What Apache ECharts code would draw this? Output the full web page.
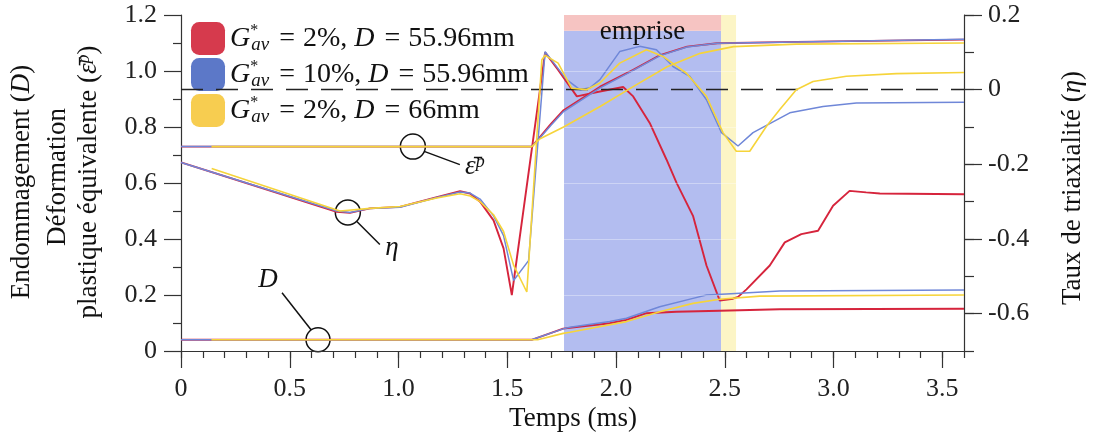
<!DOCTYPE html>
<html><head><meta charset="utf-8">
<script src="https://cdn.jsdelivr.net/npm/echarts@6/dist/echarts.min.js"></script>
<style>html,body{margin:0;padding:0;background:#fff}#c{width:1094px;height:437px}</style>
</head><body><div id="c"></div>
<script>
// ---------- DATA ----------
const caseNames = ['G2_D5596', 'G10_D5596', 'G2_D66'];
const xMajorTicks = [0, 0.5, 1, 1.5, 2, 2.5, 3, 3.5];
const leftMajorTicks = [0, 0.2, 0.4, 0.6, 0.8, 1.0, 1.2];
const rightMajorTicks = [-0.6, -0.4, -0.2, 0, 0.2];

// equivalent plastic strain (left axis)
const epsRed = [[0,0.73],[1.613,0.73],[1.651,0.765],[1.70,0.81],[1.759,0.86],[1.927,0.944],[2.079,1.004],[2.203,1.057],[2.327,1.087],[2.465,1.099],[2.83,1.104],[3.6,1.112]];
const epsBlue = [[0,0.73],[1.613,0.73],[1.651,0.762],[1.70,0.805],[1.759,0.855],[1.927,0.94],[2.079,1.002],[2.203,1.055],[2.327,1.086],[2.465,1.099],[2.83,1.104],[3.6,1.113]];
const epsYellow = [[0.14,0.73],[1.613,0.73],[1.651,0.758],[1.759,0.80],[1.927,0.873],[2.079,0.944],[2.235,1.015],[2.387,1.063],[2.54,1.087],[2.83,1.096],[3.6,1.10]];

// triaxiality (right axis)
const etaRed = [[0,-0.195],[0.716,-0.327],[0.777,-0.33],[0.869,-0.318],[1.007,-0.314],[1.176,-0.288],[1.283,-0.272],[1.329,-0.278],[1.375,-0.3],[1.437,-0.35],[1.483,-0.425],[1.521,-0.55],[1.674,0.10],[1.734,0.053],[1.82,-0.018],[1.926,-0.005],[2.033,0.007],[2.079,-0.018],[2.155,-0.089],[2.232,-0.187],[2.278,-0.249],[2.354,-0.338],[2.416,-0.471],[2.477,-0.565],[2.538,-0.56],[2.561,-0.555],[2.6,-0.535],[2.707,-0.471],[2.776,-0.409],[2.852,-0.387],[2.929,-0.378],[2.998,-0.311],[3.074,-0.271],[3.15,-0.275],[3.213,-0.278],[3.6,-0.28]];
const etaBlue = [[0,-0.195],[0.716,-0.325],[0.777,-0.329],[0.869,-0.318],[1.007,-0.315],[1.176,-0.289],[1.283,-0.274],[1.329,-0.277],[1.375,-0.293],[1.437,-0.338],[1.483,-0.391],[1.529,-0.511],[1.598,-0.458],[1.674,0.102],[1.773,0.027],[1.834,0],[1.88,0.005],[1.926,0.027],[2.017,0.102],[2.109,0.116],[2.186,0.107],[2.262,0.062],[2.339,0.036],[2.416,-0.027],[2.485,-0.115],[2.561,-0.151],[2.63,-0.115],[2.799,-0.062],[2.952,-0.045],[3.105,-0.036],[3.6,-0.034]];
const etaYellow = [[0.141,-0.211],[0.731,-0.325],[0.869,-0.318],[1.007,-0.313],[1.176,-0.29],[1.283,-0.279],[1.33,-0.285],[1.375,-0.3],[1.437,-0.335],[1.483,-0.38],[1.529,-0.47],[1.59,-0.542],[1.659,0.08],[1.674,0.092],[1.734,0.071],[1.796,0.004],[1.864,0],[1.926,0.018],[2.017,0.071],[2.14,0.107],[2.216,0.089],[2.324,0.044],[2.416,-0.018],[2.492,-0.115],[2.553,-0.165],[2.615,-0.165],[2.692,-0.098],[2.753,-0.053],[2.829,0],[2.906,0.022],[3.059,0.036],[3.289,0.043],[3.6,0.046]];

// damage (left axis)
const dRed = [[0,0.04],[1.612,0.04],[1.757,0.08],[1.971,0.099],[2.048,0.111],[2.14,0.135],[2.278,0.14],[2.477,0.144],[2.753,0.149],[3.6,0.151]];
const dBlue = [[0,0.04],[1.612,0.04],[1.757,0.079],[1.788,0.085],[1.971,0.105],[2.048,0.117],[2.201,0.158],[2.354,0.188],[2.416,0.2],[2.508,0.204],[2.753,0.214],[3.6,0.218]];
const dYellow = [[0.14,0.04],[1.64,0.04],[1.757,0.063],[1.788,0.067],[2.048,0.105],[2.201,0.14],[2.354,0.17],[2.477,0.185],[2.661,0.196],[3.6,0.2]];

// zones
const empriseStart = 1.761, empriseEnd = 2.483, yellowEnd = 2.552, empriseBlueTop = 1.144;

// ---------- CHART ----------
const FONT = "'Liberation Serif', 'DejaVu Serif', serif";
const AX = '#333';
const fmt = v => Math.abs(v) < 1e-9 ? '0' : v.toFixed(1);
const legendIcon = ['#d63a4d', '#5c78c8', '#f7cd50'];
const lineCol = ['#d6243c', '#6f87d8', '#f6d43a'];
const lineW = [1.9, 1.5, 1.6];
const sets = [[epsRed, etaRed, dRed], [epsBlue, etaBlue, dBlue], [epsYellow, etaYellow, dYellow]];

const series = [
  { type: 'line', data: [], z: 1, silent: true,
    markArea: { silent: true, data: [
      [{ xAxis: empriseStart, yAxis: 0, itemStyle: { color: '#b3bdf0' } }, { xAxis: empriseEnd, yAxis: empriseBlueTop }],
      [{ xAxis: empriseEnd, yAxis: 0, itemStyle: { color: '#fcf5c6' } }, { xAxis: yellowEnd, yAxis: 1.2 }],
      [{ xAxis: empriseStart, yAxis: empriseBlueTop, itemStyle: { color: '#f6c4c2' },
         label: { show: true, position: 'insideTop', distance: 3, formatter: 'emprise', fontFamily: FONT, fontSize: 27, color: '#111' } },
       { xAxis: empriseEnd, yAxis: 1.2 }]
    ] } },
  { type: 'line', data: [], z: 2, silent: true,
    markLine: { silent: true, symbol: 'none', label: { show: false },
      lineStyle: { color: 'rgba(255,255,255,0.35)', width: 1, type: 'solid' },
      data: leftMajorTicks.filter(v => v > 0 && v < 1.19).map(v => [{ coord: [empriseStart, v] }, { coord: [yellowEnd, v] }]) } },
  { type: 'line', data: [], z: 2, silent: true, yAxisIndex: 1,
    markLine: { silent: true, symbol: 'none', label: { show: false },
      lineStyle: { color: '#222', width: 1.4, type: [22, 13] },
      data: [{ yAxis: 0 }] } }
];
sets.forEach((s, i) => {
  [0, 1, 2].forEach(k => {
    series.push({
      name: caseNames[i], type: 'line', data: s[k], yAxisIndex: k === 1 ? 1 : 0,
      showSymbol: false, symbol: 'none', color: legendIcon[i], z: 3 + i,
      lineStyle: { color: lineCol[i], width: lineW[i] }, emphasis: { disabled: true }, silent: true
    });
  });
});

const legendText = {
  G2_D5596: '{i|G}{sup|*}{sub|av}{eq|=}{n|2%,} {i|D}{eq|=}{n|55.96mm}',
  G10_D5596: '{i|G}{sup|*}{sub|av}{eq|=}{n|10%,} {i|D}{eq|=}{n|55.96mm}',
  G2_D66: '{i|G}{sup|*}{sub|av}{eq|=}{n|2%,} {i|D}{eq|=}{n|66mm}'
};

const tickStyle = { color: AX, width: 1.2 };
const labelStyle = { fontFamily: FONT, fontSize: 26, color: '#222' };

const option = {
  animation: false,
  backgroundColor: '#fff',
  grid: { left: 181, right: 130, top: 15, bottom: 86 },
  legend: {
    orient: 'vertical', left: 186, top: 17, itemWidth: 34, itemHeight: 33, itemGap: 3,
    icon: 'roundRect', selectedMode: false, data: caseNames,
    formatter: n => legendText[n],
    textStyle: { fontFamily: FONT, fontSize: 28, color: '#111',
      rich: {
        i: { fontFamily: FONT, fontSize: 28, fontStyle: 'italic', lineHeight: 31 },
        n: { fontFamily: FONT, fontSize: 28, lineHeight: 31 },
        eq: { fontFamily: FONT, fontSize: 28, lineHeight: 31, padding: [0, 8, 0, 10] },
        sup: { fontFamily: FONT, fontSize: 16, verticalAlign: 'top', lineHeight: 12, width: 1 },
        sub: { fontFamily: FONT, fontSize: 19, fontStyle: 'italic', verticalAlign: 'bottom', lineHeight: 14 }
      } }
  },
  xAxis: [
    { type: 'value', position: 'bottom', min: 0, max: 3.6, interval: 0.1,
      axisLine: { show: true, onZero: false, lineStyle: tickStyle },
      axisTick: { show: true, length: 7, lineStyle: tickStyle },
      axisLabel: { show: false }, splitLine: { show: false } },
    { type: 'value', position: 'bottom', min: 0, max: 3.6,
      axisLine: { show: false, onZero: false },
      axisTick: { show: true, length: 17, customValues: xMajorTicks, lineStyle: tickStyle },
      axisLabel: Object.assign({ customValues: xMajorTicks, formatter: fmt, margin: 25 }, labelStyle),
      splitLine: { show: false } }
  ],
  yAxis: [
    { type: 'value', position: 'left', min: 0, max: 1.2, interval: 0.2,
      axisLine: { show: true, onZero: false, lineStyle: tickStyle },
      axisTick: { show: true, length: 17, lineStyle: tickStyle },
      minorTick: { show: true, splitNumber: 2, length: 8, lineStyle: tickStyle },
      axisLabel: Object.assign({ formatter: fmt, margin: 24 }, labelStyle),
      splitLine: { show: false } },
    { type: 'value', position: 'right', min: -0.7, max: 0.2, interval: 0.1,
      axisLine: { show: true, onZero: false, lineStyle: tickStyle },
      axisTick: { show: true, length: 10, lineStyle: tickStyle },
      axisLabel: { show: false }, splitLine: { show: false } },
    { type: 'value', position: 'right', min: -0.7, max: 0.2,
      axisLine: { show: false, onZero: false },
      axisTick: { show: true, length: 18, customValues: rightMajorTicks, lineStyle: tickStyle },
      axisLabel: Object.assign({ customValues: rightMajorTicks, formatter: fmt, margin: 24 }, labelStyle),
      splitLine: { show: false } }
  ],
  series: series
};

const chart = echarts.init(document.getElementById('c'), null, { renderer: 'canvas' });
chart.setOption(option);

// ---------- ANNOTATIONS ----------
const P = (x, y, yi) => chart.convertToPixel({ xAxisIndex: 0, yAxisIndex: yi }, [x, y]);
const cEps = P(1.066, 0.73, 0);
const cEta = P(0.767, -0.329, 1);
const cD = P(0.63, 0.04, 0);
const ann = { stroke: '#111', lineWidth: 1.5, fill: 'none' };
const richA = {
  i: { fontFamily: FONT, fontSize: 27, fontStyle: 'italic' },
  n: { fontFamily: FONT, fontSize: 27 },
  sup: { fontFamily: FONT, fontSize: 18, fontStyle: 'italic', verticalAlign: 'top', lineHeight: 14 }
};
const rotText = (x, y, text, rot) => ({
  type: 'text', x: x, y: y, rotation: rot, silent: true,
  style: { text: text, align: 'center', verticalAlign: 'middle', fill: '#111', fontFamily: FONT, fontSize: 27, rich: richA }
});
chart.setOption({
  graphic: [
    { type: 'circle', shape: { cx: cEps[0], cy: cEps[1], r: 12.5 }, style: ann, silent: true },
    { type: 'line', shape: { x1: cEps[0] + 12, y1: cEps[1] + 5, x2: cEps[0] + 47, y2: cEps[1] + 18 }, style: ann, silent: true },
    rotText(cEps[0] + 62, cEps[1] + 20, '{i|ε̄}{sup|p}', 0),
    { type: 'circle', shape: { cx: cEta[0], cy: cEta[1], r: 12.5 }, style: ann, silent: true },
    { type: 'line', shape: { x1: cEta[0] + 9, y1: cEta[1] + 9, x2: cEta[0] + 32, y2: cEta[1] + 32 }, style: ann, silent: true },
    rotText(cEta[0] + 44, cEta[1] + 35, '{i|η}', 0),
    { type: 'circle', shape: { cx: cD[0], cy: cD[1], r: 12 }, style: ann, silent: true },
    { type: 'line', shape: { x1: cD[0] - 36, y1: cD[1] - 47, x2: cD[0] - 7, y2: cD[1] - 10 }, style: ann, silent: true },
    rotText(cD[0] - 50, cD[1] - 60, '{i|D}', 0),
    rotText(22, 182, '{n|Endommagement (}{i|D}{n|)}', Math.PI / 2),
    rotText(58, 177, '{n|Déformation}', Math.PI / 2),
    rotText(89, 182, '{n|plastique équivalente (}{i|ε̄}{sup|p}{n|)}', Math.PI / 2),
    rotText(1073, 188, '{n|Taux de triaxialité (}{i|η}{n|)}', Math.PI / 2),
    rotText(573, 419, '{n|Temps (ms)}', 0)
  ]
});
</script>
</body></html>
